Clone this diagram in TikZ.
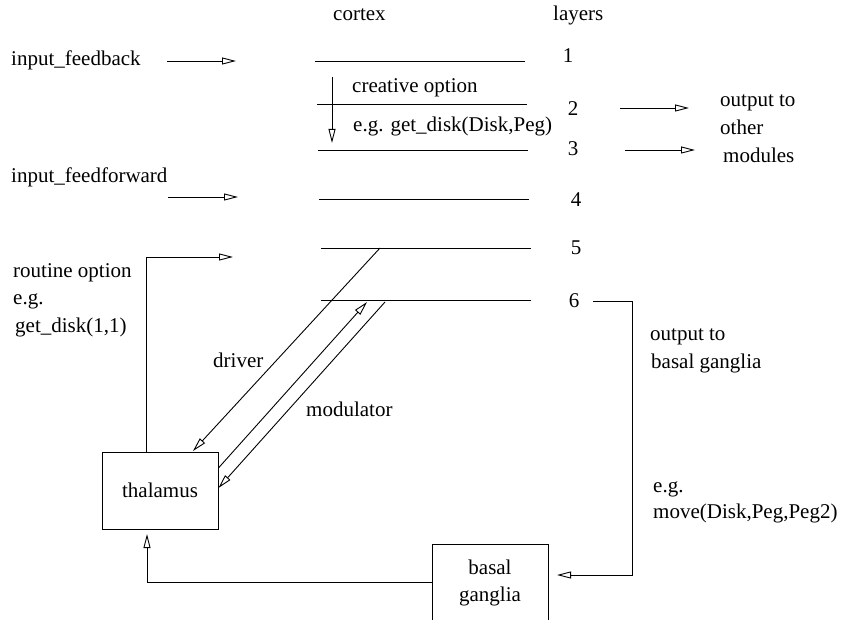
\documentclass[tikz,border=0pt]{standalone}
\usepackage{fontspec}
\setmainfont{Liberation Serif}
\usetikzlibrary{arrows.meta,calc}
\begin{document}
\begin{tikzpicture}[x=1pt,y=-1pt,
  lbl/.style={inner sep=0pt, anchor=base west, font=\fontsize{21}{27}\selectfont},
  num/.style={inner sep=0pt, anchor=base, font=\fontsize{21}{27}\selectfont},
  layer/.style={line width=0.9pt},
  arr/.style={line width=0.9pt, -{Triangle[open,length=14pt,width=7pt,line width=0.9pt]}},
  box/.style={draw, line width=0.9pt, inner sep=0pt, minimum width=116pt, minimum height=77pt,
              align=center, font=\fontsize{21}{27}\selectfont}]
\clip (0,0) rectangle (843,620);

% headings
\node[lbl] (cortex) at (333,21) {cortex};
\node[lbl] (layers) at (553,21) {layers};

% layer lines
\coordinate (L1a) at (315,61);  \coordinate (L1b) at (525,61);
\coordinate (L2a) at (317,104); \coordinate (L2b) at (527,104);
\coordinate (L3a) at (318,150); \coordinate (L3b) at (528,150);
\coordinate (L4a) at (319,199); \coordinate (L4b) at (529,199);
\coordinate (L5a) at (321,248); \coordinate (L5b) at (531,248);
\coordinate (L6a) at (321,300); \coordinate (L6b) at (531,300);
\foreach \i in {1,...,6} {\draw[layer] (L\i a) -- (L\i b);}

% layer numbers
\node[num] (n1) at (568,63) {1};
\node[num] (n2) at (573,116) {2};
\node[num] (n3) at (573,156) {3};
\node[num] (n4) at (576,207) {4};
\node[num] (n5) at (576,255) {5};
\node[num] (n6) at (574,308) {6};

% cortex texts
\node[lbl] (creat) at (352,93) {creative option};
\node[lbl] (eg1) at (353,132) {e.g. get\_disk(Disk,Peg)};
\coordinate (crS) at (332,77); \coordinate (crE) at (332,143);
\draw[arr] (crS) -- (crE);

% inputs
\node[lbl] (inFb) at (11,66) {input\_feedback};
\node[lbl] (inFf) at (11,183) {input\_feedforward};
\coordinate (fbS) at (167,61);  \coordinate (fbE) at (236,61);
\coordinate (ffS) at (168,197); \coordinate (ffE) at (238,197);
\draw[arr] (fbS) -- (fbE);
\draw[arr] (ffS) -- (ffE);

% outputs to other modules
\coordinate (o2S) at (620,108); \coordinate (o2E) at (689,108);
\coordinate (o3S) at (625,150); \coordinate (o3E) at (695,150);
\draw[arr] (o2S) -- (o2E);
\draw[arr] (o3S) -- (o3E);
\node[lbl] (out1) at (720,107) {output to};
\node[lbl] (out2) at (720,135) {other};
\node[lbl] (out3) at (723,163) {modules};

% boxes
\node[box] (th) at (160,490.5) {thalamus};
\node[box] (bg) at (490,582.5) {basal\\ganglia};

% routine option
\node[lbl] (ro1) at (13,278) {routine option};
\node[lbl] (ro2) at (13,305) {e.g.};
\node[lbl] (ro3) at (15,332) {get\_disk(1,1)};
\coordinate (rtS) at (th.north -| 146,0);
\coordinate (rtE) at (233,257);
\draw[arr] (rtS) |- (rtE);

% driver / modulator
\node[lbl] (drv) at (213,367) {driver};
\node[lbl] (mod) at (306,416) {modulator};
\coordinate (dS) at (380,248); \coordinate (dE) at (193,451);
\draw[arr] (dS) -- (dE);
\coordinate (mS) at (th.east |- 0,468); \coordinate (mE) at (367,302);
\draw[arr] (mS) -- (mE);
\coordinate (kS) at (385,302); \coordinate (kE) at (th.east |- 0,488);
\draw[arr] (kS) -- (kE);

% output to basal ganglia
\node[lbl] (ob1) at (650,340) {output to};
\node[lbl] (ob2) at (651,368) {basal ganglia};
\node[lbl] (ob3) at (653,492) {e.g.};
\node[lbl] (ob4) at (653,518) {move(Disk,Peg,Peg2)};
\coordinate (o6S) at (593,301);
\coordinate (o6C) at (632,575);
\coordinate (o6E) at (557,575);
\draw[arr] (o6S) -| (o6C) -- (o6E);

% basal ganglia to thalamus
\coordinate (thB) at (147,534);
\draw[arr] (bg.west) -| (thB);
\end{tikzpicture}
\end{document}
